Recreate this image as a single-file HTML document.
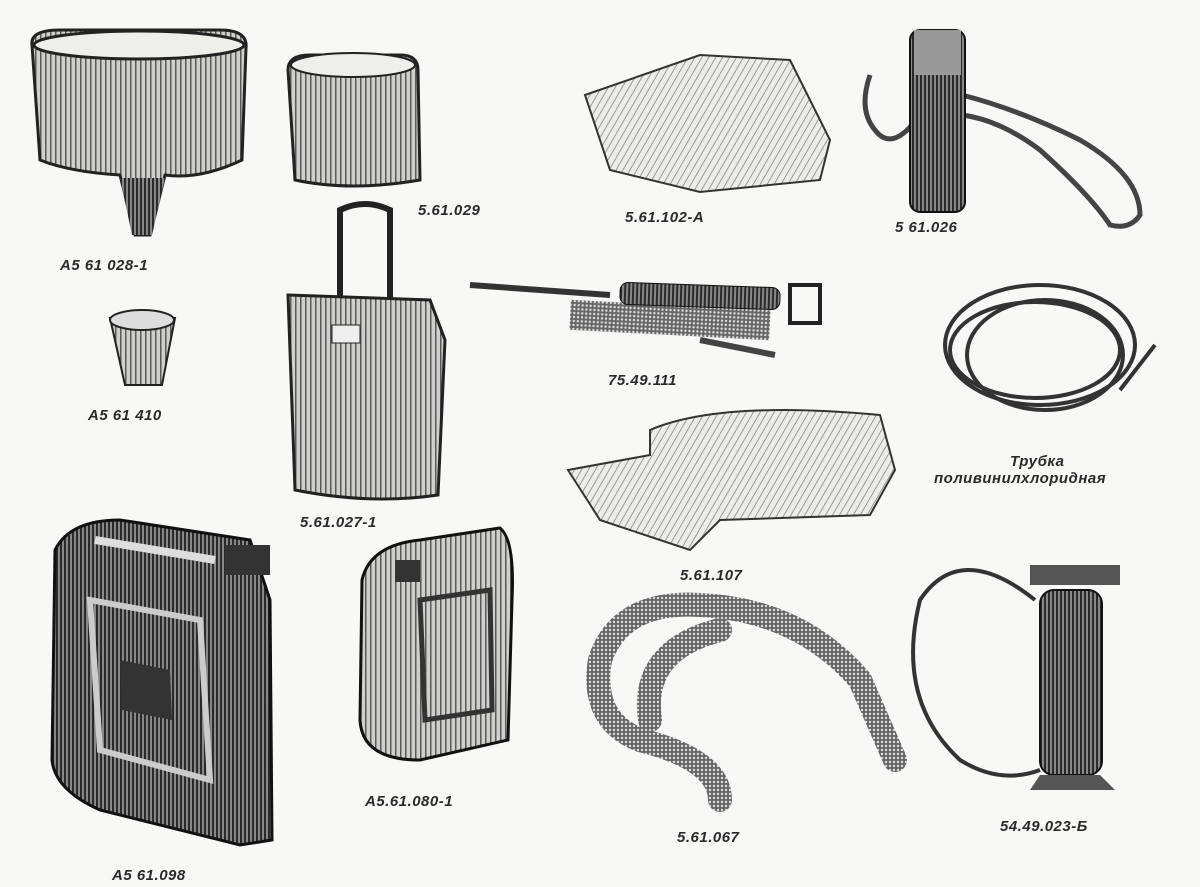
<!DOCTYPE html>
<html><head><meta charset="utf-8"><style>
html,body{margin:0;padding:0;background:#f8f8f7;}
svg{display:block}
text{font-family:"Liberation Sans","DejaVu Sans",sans-serif;font-style:italic;font-weight:bold;font-size:15px;fill:#2a2a2a;letter-spacing:0.5px;}
</style></head><body>
<svg width="1200" height="887" viewBox="0 0 1200 887" xmlns="http://www.w3.org/2000/svg">
<defs>
<pattern id="v" width="5" height="5" patternUnits="userSpaceOnUse"><rect width="5" height="5" fill="#cfcfcc"/><rect width="1.5" height="5" fill="#5a5a5a"/></pattern>
<pattern id="vd" width="4" height="4" patternUnits="userSpaceOnUse"><rect width="4" height="4" fill="#888"/><rect width="2" height="4" fill="#2a2a2a"/></pattern>
<pattern id="d" width="6" height="6" patternUnits="userSpaceOnUse" patternTransform="rotate(30)"><rect width="6" height="6" fill="#ecece9"/><rect width="1" height="6" fill="#999"/></pattern>
<pattern id="s" width="4" height="4" patternUnits="userSpaceOnUse"><rect width="4" height="4" fill="#666"/><circle cx="2" cy="2" r="1.2" fill="#ddd"/></pattern>
</defs>
<rect width="1200" height="887" fill="#f8f8f7"/>
<!-- funnel -->
<path d="M32 45 Q30 30 60 30 L220 30 Q248 30 246 48 L242 160 Q200 180 165 175 L150 235 L135 235 L120 175 Q70 172 40 160 Z" fill="url(#v)" stroke="#222" stroke-width="3"/>
<ellipse cx="139" cy="45" rx="105" ry="14" fill="#eeeeea" stroke="#222" stroke-width="3"/>
<path d="M120 178 L165 178 L152 235 L132 235 Z" fill="url(#vd)"/>
<text x="60" y="270">А5 61 028-1</text>
<!-- box -->
<path d="M288 70 Q288 55 310 55 L400 55 Q418 55 418 70 L420 180 Q350 192 295 180 Z" fill="url(#v)" stroke="#222" stroke-width="3"/>
<ellipse cx="353" cy="65" rx="62" ry="12" fill="#eeeeea" stroke="#222" stroke-width="2"/>
<text x="418" y="215">5.61.029</text>
<!-- cloth -->
<path d="M585 95 L700 55 L790 60 L830 140 L820 180 L700 192 L610 170 Z" fill="url(#d)" stroke="#333" stroke-width="2"/>
<text x="625" y="222">5.61.102-А</text>
<!-- flask -->
<path d="M870 75 Q858 110 875 130 Q890 150 912 125 M962 95 Q1020 110 1080 140 Q1140 175 1140 215 Q1130 230 1110 225 Q1090 195 1040 150 Q1000 120 962 115" fill="none" stroke="#444" stroke-width="5"/>
<rect x="910" y="30" width="55" height="182" rx="10" fill="url(#vd)" stroke="#111" stroke-width="2"/>
<rect x="914" y="30" width="47" height="45" fill="#999"/>
<text x="895" y="232">5 61.026</text>
<!-- small cup -->
<path d="M110 318 L175 318 L162 385 L125 385 Z" fill="url(#v)" stroke="#222" stroke-width="2"/>
<ellipse cx="142" cy="320" rx="32" ry="10" fill="#ddd" stroke="#222" stroke-width="2"/>
<text x="88" y="420">А5 61 410</text>
<!-- jug -->
<path d="M340 300 L340 210 Q365 198 390 210 L390 300" fill="none" stroke="#222" stroke-width="6"/>
<path d="M288 295 L430 300 L445 340 L438 495 Q370 505 295 490 Z" fill="url(#v)" stroke="#222" stroke-width="3"/>
<rect x="332" y="325" width="28" height="18" fill="#eee" stroke="#222"/>
<text x="300" y="527">5.61.027-1</text>
<!-- pump -->
<line x1="470" y1="285" x2="610" y2="295" stroke="#333" stroke-width="6"/>
<rect x="570" y="305" width="200" height="30" fill="url(#s)" transform="rotate(3 670 320)"/>
<rect x="620" y="285" width="160" height="22" rx="8" fill="url(#vd)" stroke="#111" transform="rotate(2 700 296)"/>
<line x1="700" y1="340" x2="775" y2="355" stroke="#444" stroke-width="6"/>
<rect x="790" y="285" width="30" height="38" fill="none" stroke="#222" stroke-width="4"/>
<text x="608" y="385">75.49.111</text>
<!-- coil hose -->
<g fill="none" stroke="#333" stroke-width="4">
<ellipse cx="1040" cy="345" rx="95" ry="60"/><ellipse cx="1035" cy="350" rx="85" ry="48"/><ellipse cx="1045" cy="355" rx="78" ry="55"/>
<path d="M1120 390 L1155 345"/></g>
<text x="1010" y="466">Трубка</text>
<text x="934" y="483">поливинилхлоридная</text>
<!-- cloth 2 -->
<path d="M650 430 Q720 400 880 415 L895 470 L870 515 L720 520 L690 550 L600 520 L568 470 L650 455 Z" fill="url(#d)" stroke="#333" stroke-width="2"/>
<text x="680" y="580">5.61.107</text>
<!-- big jerry can -->
<path d="M55 550 Q70 520 120 520 L250 540 L270 600 L272 840 L240 845 L100 810 Q55 790 52 760 Z" fill="url(#vd)" stroke="#111" stroke-width="3"/>
<path d="M90 600 L200 620 L210 780 L100 750 Z" fill="none" stroke="#ccc" stroke-width="6"/>
<path d="M120 660 L170 670 L172 720 L122 710 Z" fill="#333"/>
<path d="M95 540 L215 560" stroke="#ddd" stroke-width="8"/>
<rect x="225" y="545" width="45" height="30" fill="#333"/>
<text x="112" y="880">А5 61.098</text>
<!-- small jerry can -->
<path d="M362 580 Q370 545 420 540 L500 528 Q515 540 512 600 L508 740 L420 760 Q362 760 360 720 Z" fill="url(#v)" stroke="#111" stroke-width="3"/>
<path d="M420 600 L490 590 L492 710 L425 720 Z" fill="none" stroke="#333" stroke-width="5"/>
<rect x="395" y="560" width="25" height="22" fill="#333"/>
<text x="365" y="806">А5.61.080-1</text>
<!-- hose -->
<g fill="none" stroke="url(#s)" stroke-width="24" stroke-linecap="round">
<path d="M720 800 Q720 760 640 740 Q590 720 600 660 Q620 600 700 605 Q800 610 860 680 L895 760"/>
<path d="M650 720 Q640 650 720 630"/>
</g>
<text x="677" y="842">5.61.067</text>
<!-- sprayer -->
<path d="M1035 600 Q960 540 920 600 Q895 700 960 760 Q1000 785 1040 770" fill="none" stroke="#333" stroke-width="4"/>
<rect x="1040" y="590" width="62" height="185" rx="14" fill="url(#vd)" stroke="#111" stroke-width="2"/>
<rect x="1030" y="565" width="90" height="20" fill="#555"/>
<path d="M1040 775 L1100 775 L1115 790 L1030 790 Z" fill="#555"/>
<text x="1000" y="831">54.49.023-Б</text>
</svg>
</body></html>
